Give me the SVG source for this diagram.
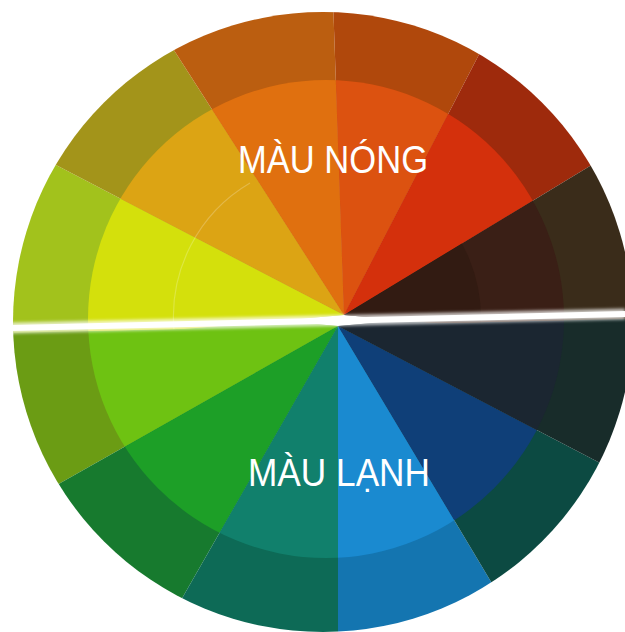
<svg xmlns="http://www.w3.org/2000/svg" xmlns:xlink="http://www.w3.org/1999/xlink" width="625" height="632" viewBox="0 0 625 632">
  <style>
    .lbl { fill: #ffffff; font-family: "Liberation Sans Narrow", "Liberation Sans", Arial, sans-serif; font-weight: normal; }
  </style>
  <defs>
    <clipPath id="outerClip"><circle cx="323" cy="322" r="310"/></clipPath>
    <clipPath id="innerClip"><ellipse cx="326" cy="319" rx="238" ry="239"/></clipPath>
    <clipPath id="coreClip"><circle cx="326" cy="318" r="155"/></clipPath>
    <clipPath id="upperClip"><polygon points="0,0 625,0 625,319 0,333"/></clipPath>
    <clipPath id="lowerClip"><polygon points="0,323 625,309 625,632 0,632"/></clipPath>
    <!-- upper wedges, center (344,315) -->
    <polygon id="u1" points="344,315 -353.3,376 -276.9,-8.2"/>
    <polygon id="u2" points="344,315 -276.9,-8.2 -34.2,-274.1"/>
    <polygon id="u3" points="344,315 -34.2,-274.1 319.6,-384.6"/>
    <polygon id="u4" points="344,315 319.6,-384.6 666.1,-306.5"/>
    <polygon id="u5" points="344,315 666.1,-306.5 942.9,-47.6"/>
    <polygon id="u6" points="344,315 942.9,-47.6 1041.3,376"/>
    <!-- lower wedges, center (338,326) -->
    <polygon id="l1" points="338,326 -359.3,265 -271.3,670.7"/>
    <polygon id="l2" points="338,326 -271.3,670.7 -9.9,933.4"/>
    <polygon id="l3" points="338,326 -9.9,933.4 338,1026"/>
    <polygon id="l4" points="338,326 338,1026 697.5,926.7"/>
    <polygon id="l5" points="338,326 697.5,926.7 958.3,650.3"/>
    <polygon id="l6" points="338,326 958.3,650.3 1035.3,265"/>
    <filter id="soft" x="-5%" y="-200%" width="110%" height="500%">
      <feGaussianBlur stdDeviation="1.4"/>
    </filter>
  </defs>

  <g id="wheel" clip-path="url(#outerClip)">
    <!-- lower half: cool colours -->
    <g id="cool-half" clip-path="url(#lowerClip)">
      <g id="cool-outer">
        <use xlink:href="#l1" fill="#6b9c14"/>
        <use xlink:href="#l2" fill="#177a2e"/>
        <use xlink:href="#l3" fill="#0d6a56"/>
        <use xlink:href="#l4" fill="#1475b0"/>
        <use xlink:href="#l5" fill="#0c4a42"/>
        <use xlink:href="#l6" fill="#182c2a"/>
      </g>
      <g id="cool-inner" clip-path="url(#innerClip)">
        <use xlink:href="#l1" fill="#6ec212"/>
        <use xlink:href="#l2" fill="#1d9f27"/>
        <use xlink:href="#l3" fill="#11806c"/>
        <use xlink:href="#l4" fill="#1a8ad0"/>
        <use xlink:href="#l5" fill="#0f3f78"/>
        <use xlink:href="#l6" fill="#1b2631"/>
      </g>
    </g>
    <!-- upper half: warm colours -->
    <g id="warm-half" clip-path="url(#upperClip)">
      <g id="warm-outer">
        <use xlink:href="#u1" fill="#a2c21c"/>
        <use xlink:href="#u2" fill="#a3941a"/>
        <use xlink:href="#u3" fill="#bb5e10"/>
        <use xlink:href="#u4" fill="#b0480c"/>
        <use xlink:href="#u5" fill="#9e2a0c"/>
        <use xlink:href="#u6" fill="#3a2c1a"/>
      </g>
      <g id="warm-inner" clip-path="url(#innerClip)">
        <use xlink:href="#u1" fill="#d4e00c"/>
        <use xlink:href="#u2" fill="#dca414"/>
        <use xlink:href="#u3" fill="#e0700f"/>
        <use xlink:href="#u4" fill="#dc5210"/>
        <use xlink:href="#u5" fill="#d4300c"/>
        <use xlink:href="#u6" fill="#3a1f16"/>
      </g>
      <g id="warm-core" clip-path="url(#coreClip)">
        <use xlink:href="#u6" fill="#321b12"/>
      </g>
      <path d="M 174 330 A 155 155 0 0 1 250 183" fill="none" stroke="#ffffff" stroke-opacity="0.22" stroke-width="1.2"/>
    </g>
  </g>

  <g id="divider">
    <line x1="0" y1="328.3" x2="625" y2="314" stroke="#ffffff" stroke-opacity="0.7" stroke-width="11" filter="url(#soft)"/>
    <line x1="0" y1="328.3" x2="625" y2="314" stroke="#ffffff" stroke-width="6"/>
  </g>

  <g id="warm-label">
    <text class="lbl" x="238" y="173" font-size="39" textLength="190" lengthAdjust="spacingAndGlyphs">MÀU NÓNG</text>
  </g>
  <g id="cool-label">
    <text class="lbl" x="248" y="486" font-size="38" textLength="182" lengthAdjust="spacingAndGlyphs">MÀU LẠNH</text>
  </g>
</svg>
